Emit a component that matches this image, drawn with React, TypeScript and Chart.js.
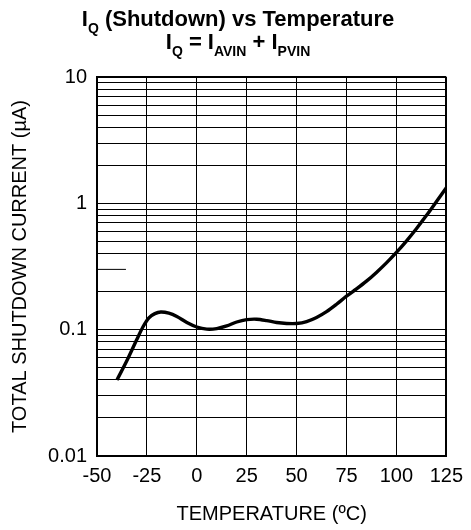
import React, { useEffect, useRef } from "react";
import { Chart, registerables } from "chart.js";

Chart.register(...registerables);

// Temperature (°C) and total shutdown current (µA)
const temperatures = [-40, -35, -30, -27, -24, -21, -18, -14, -10, -5, 0, 5, 10, 15, 20, 25, 30, 35, 40, 45, 50, 55, 60, 65, 70, 75, 80, 85, 90, 95, 100, 105, 110, 115, 120, 125];
const currents = [0.04, 0.057, 0.084, 0.105, 0.124, 0.134, 0.138, 0.135, 0.127, 0.114, 0.105, 0.101, 0.102, 0.107, 0.115, 0.12, 0.121, 0.118, 0.114, 0.112, 0.112, 0.116, 0.125, 0.139, 0.159, 0.184, 0.21, 0.242, 0.284, 0.338, 0.409, 0.503, 0.63, 0.8, 1.03, 1.33];

// short partial grid segment at 0.3 µA seen at the left edge of the reference
const stubTemps = [-50, -35.5];
const stubValues = [0.3, 0.3];

const xTicks = [-50, -25, 0, 25, 50, 75, 100, 125];
const yDecadeLabels = ["0.01", "0.1", "1", "10"];
const yMin = 0.01;
const yMax = 10;
const omittedGridValues = [0.3];

const FONT = '"Liberation Sans", Arial, Helvetica, sans-serif';

export default function App() {
  const ref = useRef<HTMLCanvasElement | null>(null);

  useEffect(() => {
    if (!ref.current) return;
    const chart = new Chart(ref.current, {
      type: "line",
      data: {
        datasets: [
          {
            label: "IQ",
            data: temperatures.map((t, i) => ({ x: t, y: currents[i] })),
            borderColor: "#000",
            borderWidth: 3.4,
            pointRadius: 0,
            tension: 0.3,
            fill: false,
          },
          {
            label: "stub",
            data: stubTemps.map((t, i) => ({ x: t, y: stubValues[i] })),
            borderColor: "#000",
            borderWidth: 1,
            pointRadius: 0,
            fill: false,
          },
        ],
      },
      options: {
        animation: false,
        responsive: false,
        layout: { padding: { top: 77, right: 21, left: 0, bottom: 0 } },
        plugins: { legend: { display: false }, tooltip: { enabled: false }, title: { display: false } },
        scales: {
          x: {
            type: "linear",
            min: xTicks[0],
            max: xTicks[xTicks.length - 1],
            afterBuildTicks: (scale: any) => {
              scale.ticks = xTicks.map((v) => ({ value: v }));
            },
            afterFit: (scale: any) => {
              scale.height = 74;
            },
            ticks: {
              autoSkip: false,
              maxRotation: 0,
              padding: 8,
              color: "#000",
              font: { family: FONT, size: 20 },
              callback: (v: any) => String(v),
            },
            grid: {
              color: "#000",
              lineWidth: (ctx: any) => (ctx.tick && ctx.tick.value === xTicks[xTicks.length - 1] ? 2 : 1),
              drawTicks: false,
            },
            border: { color: "#000", width: 2 },
            title: {
              display: true,
              text: "TEMPERATURE (ºC)",
              color: "#000",
              font: { family: FONT, size: 20 },
              padding: { top: 0, bottom: 4 },
            },
          },
          y: {
            type: "logarithmic",
            min: yMin,
            max: yMax,
            afterBuildTicks: (scale: any) => {
              const ticks: any[] = [];
              for (let e = -2; e <= 1; e++) {
                for (let m = 1; m <= 9; m++) {
                  const v = Number((m * Math.pow(10, e)).toPrecision(3));
                  if (v >= yMin - 1e-12 && v <= yMax + 1e-12) ticks.push({ value: v, major: m === 1 });
                  if (e === 1) break;
                }
              }
              scale.ticks = ticks;
            },
            afterFit: (scale: any) => {
              scale.width = 97;
            },
            ticks: {
              autoSkip: false,
              padding: 10,
              color: "#000",
              font: { family: FONT, size: 20 },
              callback: (v: any) => {
                const idx = [0.01, 0.1, 1, 10].indexOf(Number(v));
                return idx >= 0 ? yDecadeLabels[idx] : "";
              },
            },
            grid: {
              color: (ctx: any) =>
                ctx.tick && omittedGridValues.indexOf(ctx.tick.value) >= 0 ? "rgba(0,0,0,0)" : "#000",
              lineWidth: (ctx: any) => (ctx.tick && ctx.tick.value === yMax ? 2 : 1),
              drawTicks: false,
            },
            border: { color: "#000", width: 2 },
            title: {
              display: true,
              text: "TOTAL SHUTDOWN CURRENT (µA)",
              color: "#000",
              font: { family: FONT, size: 20 },
              padding: { top: 8, bottom: 0 },
            },
          },
        },
      },
    } as any);
    return () => chart.destroy();
  }, []);

  const sub: React.CSSProperties = { fontSize: 14, position: "relative", top: 7 };
  const line: React.CSSProperties = {
    position: "absolute",
    left: 0,
    width: 476,
    textAlign: "center",
    fontWeight: "bold",
    fontSize: 22,
    lineHeight: "22px",
    whiteSpace: "nowrap",
    color: "#000",
  };

  return (
    <div style={{ position: "absolute", left: 0, top: 0, width: 471, height: 530, fontFamily: FONT, background: "#fff" }}>
      <canvas ref={ref} width={471} height={530} style={{ position: "absolute", left: 0, top: 0 }} />
      <div style={{ ...line, top: 8 }}>
        I<span style={sub}>Q</span> (Shutdown) vs Temperature
      </div>
      <div style={{ ...line, top: 31 }}>
        I<span style={sub}>Q</span> = I<span style={sub}>AVIN</span> + I<span style={sub}>PVIN</span>
      </div>
    </div>
  );
}
